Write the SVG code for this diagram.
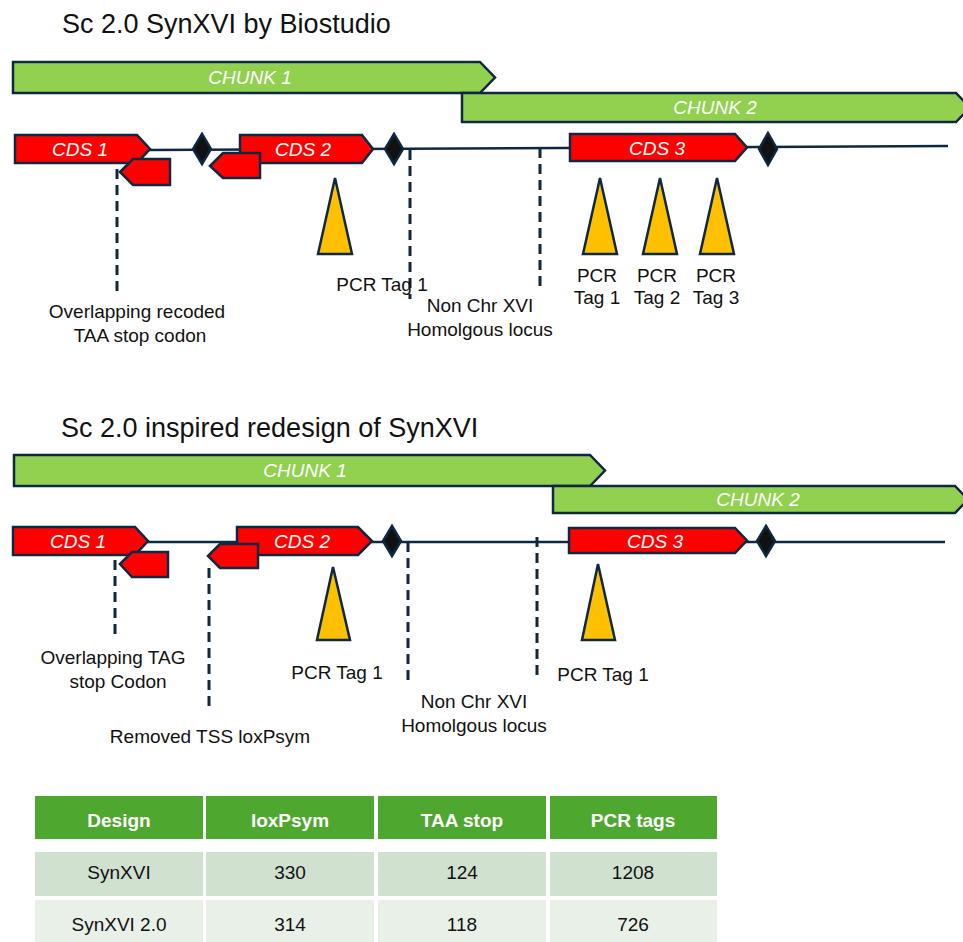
<svg xmlns="http://www.w3.org/2000/svg" width="963" height="942" viewBox="0 0 963 942">
<style>
text{font-family:"Liberation Sans",Arial,sans-serif;fill:#111}
.title{font-size:27px}
.lbl{font-size:19px;text-anchor:middle}
.in{font-size:19px;font-style:italic;fill:#fff;text-anchor:middle}
.chunk{fill:#92D050;stroke:#0E2841;stroke-width:2.5}
.cds{fill:#FF0000;stroke:#0E2841;stroke-width:2.5}
.dia{fill:#111;stroke:#0E2841;stroke-width:2.5}
.tri{fill:#FFC000;stroke:#0E2841;stroke-width:2.5}
.line{stroke:#0E2841;stroke-width:2.5;fill:none}
.dash{stroke:#0E2841;stroke-width:3;stroke-dasharray:10 6;fill:none}
.th{font-size:19px;font-weight:bold;fill:#fff;text-anchor:middle}
.td{font-size:19px;text-anchor:middle}
</style>

<text class="title" x="62" y="33">Sc 2.0 SynXVI by Biostudio</text>
<text class="title" x="61" y="437">Sc 2.0 inspired redesign of SynXVI</text>

<g id="connectors">
  <line class="line" x1="148" y1="150" x2="948" y2="146"/>
  <line class="dash" x1="117" y1="137" x2="117" y2="297"/>
  <line class="dash" x1="410" y1="150" x2="410" y2="299"/>
  <line class="dash" x1="540" y1="148" x2="540" y2="287"/>
  <line class="line" x1="146" y1="542" x2="945" y2="542"/>
  <line class="dash" x1="115" y1="528" x2="115" y2="638"/>
  <line class="dash" x1="209" y1="568" x2="209" y2="708"/>
  <line class="dash" x1="408" y1="542" x2="408" y2="683"/>
  <line class="dash" x1="537" y1="537" x2="537" y2="678"/>
</g>

<!-- Top design -->
<g id="top-chunk1"><polygon class="chunk" points="13,62 480,62 495,77.5 480,93 13,93"/><text class="in" x="250" y="84">CHUNK 1</text></g>
<g id="top-chunk2"><polygon class="chunk" points="462,93 956,93 970,107.5 956,122 462,122"/><text class="in" x="715" y="114">CHUNK 2</text></g>
<g id="top-cds1"><polygon class="cds" points="15,135 137,135 150,149 137,163 15,163"/><text class="in" x="80" y="156">CDS 1</text></g>
<g id="top-cds2"><polygon class="cds" points="240,135 362,135 373,149 362,163 240,163"/><text class="in" x="303" y="156">CDS 2</text></g>
<g id="top-rev1"><polygon class="cds" points="120,172 133,159 170,159 170,185 133,185"/></g>
<g id="top-rev2"><polygon class="cds" points="210,166 223,153 260,153 260,178 223,178"/></g>
<g id="top-cds3"><polygon class="cds" points="570,134 735,134 747,147.5 735,161 570,161"/><text class="in" x="657" y="155">CDS 3</text></g>
<g id="top-dia1"><polygon class="dia" points="202,134 211,149 202,164 193,149"/></g>
<g id="top-dia2"><polygon class="dia" points="394,134 403,149 394,164 385,149"/></g>
<g id="top-dia3"><polygon class="dia" points="768,133 777,149 768,165 759,149"/></g>
<g id="top-tag1"><polygon class="tri" points="335,178 352,254 318,254"/><text class="lbl" x="382" y="291">PCR Tag 1</text></g>
<g id="top-tag2"><polygon class="tri" points="600,178 617,254 583,254"/><text class="lbl" x="597" y="282">PCR</text><text class="lbl" x="597" y="304">Tag 1</text></g>
<g id="top-tag3"><polygon class="tri" points="660,178 677,254 643,254"/><text class="lbl" x="657" y="282">PCR</text><text class="lbl" x="657" y="304">Tag 2</text></g>
<g id="top-tag4"><polygon class="tri" points="717,178 734,254 700,254"/><text class="lbl" x="716" y="282">PCR</text><text class="lbl" x="716" y="304">Tag 3</text></g>
<g id="top-label-overlap"><text class="lbl" x="137" y="318">Overlapping recoded</text><text class="lbl" x="140" y="342">TAA stop codon</text></g>
<g id="top-label-nonchr"><text class="lbl" x="480" y="312">Non Chr XVI</text><text class="lbl" x="480" y="336">Homolgous locus</text></g>

<!-- Bottom design -->
<g id="bot-chunk1"><polygon class="chunk" points="14,455 590,455 605,470.5 590,486 14,486"/><text class="in" x="305" y="477">CHUNK 1</text></g>
<g id="bot-chunk2"><polygon class="chunk" points="553,486 955,486 968,499.5 955,513 553,513"/><text class="in" x="758" y="506">CHUNK 2</text></g>
<g id="bot-cds1"><polygon class="cds" points="13,527 135,527 148,541 135,555 13,555"/><text class="in" x="78" y="548">CDS 1</text></g>
<g id="bot-cds2"><polygon class="cds" points="237,527 358,527 372,541 358,555 237,555"/><text class="in" x="302" y="548">CDS 2</text></g>
<g id="bot-rev1"><polygon class="cds" points="120,564 132,552 168,552 168,577 132,577"/></g>
<g id="bot-rev2"><polygon class="cds" points="208,556 220,544 258,544 258,568 220,568"/></g>
<g id="bot-cds3"><polygon class="cds" points="569,528 735,528 747,540.5 735,553 569,553"/><text class="in" x="655" y="548">CDS 3</text></g>
<g id="bot-dia2"><polygon class="dia" points="392,526 401,541 392,556 383,541"/></g>
<g id="bot-dia3"><polygon class="dia" points="766,526 775,541 766,556 757,541"/></g>
<g id="bot-tag1"><polygon class="tri" points="333,567 350,640 317,640"/><text class="lbl" x="337" y="679">PCR Tag 1</text></g>
<g id="bot-tag2"><polygon class="tri" points="598,564 615,640 582,640"/><text class="lbl" x="603" y="681">PCR Tag 1</text></g>
<g id="bot-label-overlap"><text class="lbl" x="113" y="664">Overlapping TAG</text><text class="lbl" x="118" y="688">stop Codon</text></g>
<g id="bot-label-tss"><text class="lbl" x="210" y="743">Removed TSS loxPsym</text></g>
<g id="bot-label-nonchr"><text class="lbl" x="474" y="708">Non Chr XVI</text><text class="lbl" x="474" y="732">Homolgous locus</text></g>

<!-- Table -->
<g id="table">
  <rect x="35" y="796" width="168" height="43" fill="#4EA72E"/>
  <rect x="206" y="796" width="168" height="43" fill="#4EA72E"/>
  <rect x="378" y="796" width="168" height="43" fill="#4EA72E"/>
  <rect x="550" y="796" width="167" height="43" fill="#4EA72E"/>
  <rect x="35" y="852" width="168" height="44" fill="#D0E1CF"/>
  <rect x="206" y="852" width="168" height="44" fill="#D0E1CF"/>
  <rect x="378" y="852" width="168" height="44" fill="#D0E1CF"/>
  <rect x="550" y="852" width="167" height="44" fill="#D0E1CF"/>
  <rect x="35" y="900" width="168" height="42" fill="#E8F0E7"/>
  <rect x="206" y="900" width="168" height="42" fill="#E8F0E7"/>
  <rect x="378" y="900" width="168" height="42" fill="#E8F0E7"/>
  <rect x="550" y="900" width="167" height="42" fill="#E8F0E7"/>
  <text class="th" x="119" y="827">Design</text>
  <text class="th" x="290" y="827">loxPsym</text>
  <text class="th" x="462" y="827">TAA stop</text>
  <text class="th" x="633" y="827">PCR tags</text>
  <text class="td" x="119" y="879">SynXVI</text>
  <text class="td" x="290" y="879">330</text>
  <text class="td" x="462" y="879">124</text>
  <text class="td" x="633" y="879">1208</text>
  <text class="td" x="119" y="931">SynXVI 2.0</text>
  <text class="td" x="290" y="931">314</text>
  <text class="td" x="462" y="931">118</text>
  <text class="td" x="633" y="931">726</text>
</g>
</svg>
